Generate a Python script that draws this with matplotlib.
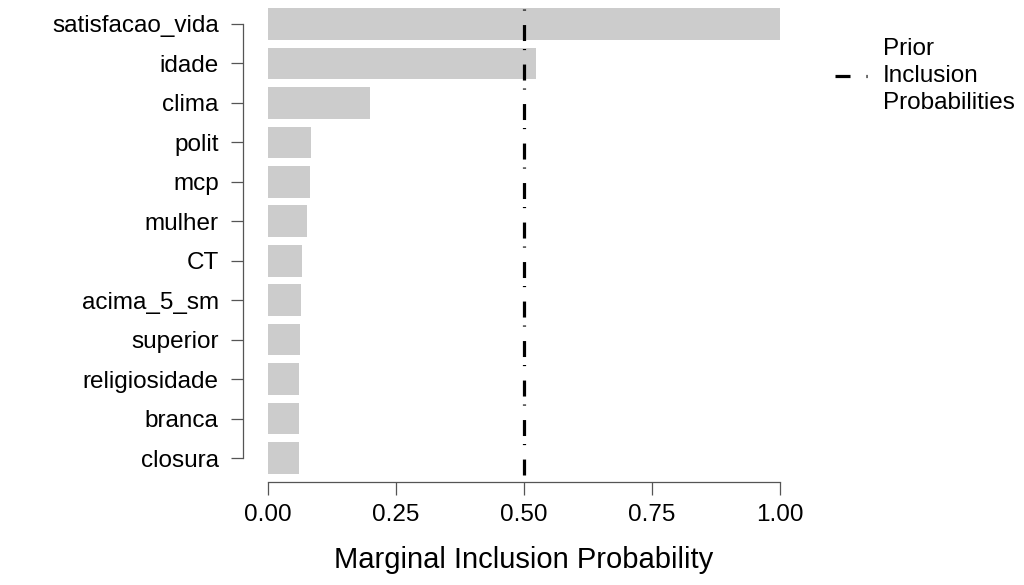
import matplotlib.pyplot as plt
from matplotlib.lines import Line2D

plt.rcParams['font.family'] = ['Liberation Sans', 'DejaVu Sans']
plt.rcParams['lines.scale_dashes'] = False

# data
variables = ["satisfacao_vida", "idade", "clima", "polit", "mcp", "mulher", "CT",
             "acima_5_sm", "superior", "religiosidade", "branca", "closura"]
incl_prob = [1.00, 0.523, 0.199, 0.084, 0.083, 0.076, 0.066, 0.064, 0.062, 0.061, 0.060, 0.060]
prior_prob = 0.5
xticks = [0.00, 0.25, 0.50, 0.75, 1.00]

fig = plt.figure(figsize=(10.24, 5.85), dpi=100)
ax = fig.add_axes([268/1024, 1 - 477.75/585, 512/1024, (477.75 - 0.3)/585])

pos = list(range(len(variables)))
ax.barh(pos, incl_prob, height=0.8, color='#cccccc')

# dot, gap, long dash, gap (points) - repeats once per category
dash = (0, (0.8, 10.4, 11.5, 5.74))
ax.plot([prior_prob, prior_prob], [-0.39, 11.42], color='black', lw=2.3,
        linestyle=dash, dash_capstyle='butt')

ax.set_xlim(0, 1)
ax.set_ylim(11.5, -0.6)

ax.set_yticks(pos)
ax.set_yticklabels(variables)
ax.set_xticks(xticks)
ax.set_xticklabels([f"{t:.2f}" for t in xticks])

for s in ['top', 'right']:
    ax.spines[s].set_visible(False)
ax.spines['left'].set_position(('outward', 18))
ax.spines['bottom'].set_position(('outward', 3.2))
ax.spines['left'].set_bounds(0, 11)
ax.spines['bottom'].set_bounds(0, 1)
for s in ['left', 'bottom']:
    ax.spines[s].set_color('#555555')
    ax.spines[s].set_linewidth(0.9)

ax.tick_params(axis='both', length=9, width=0.9, color='#555555',
               labelsize=17.5, labelcolor='black', pad=7)
ax.tick_params(axis='y', pad=8.5)

ax.set_xlabel("Marginal Inclusion Probability", fontsize=21, labelpad=14)

handle = Line2D([], [], color='black', lw=2.3, linestyle=(0, (10.8, 11.5, 0.8, 10)),
                dash_capstyle='butt')
leg = fig.legend([handle], ["Prior\nInclusion\nProbabilities"], loc='center left',
                 bbox_to_anchor=(835/1024, 1 - 76/585), frameon=False, fontsize=17.5,
                 handlelength=1.36, handletextpad=0.62, borderpad=0, borderaxespad=0,
                 labelspacing=0)
leg.get_texts()[0].set_linespacing(1.3)

fig.savefig('out.png', dpi=100)
